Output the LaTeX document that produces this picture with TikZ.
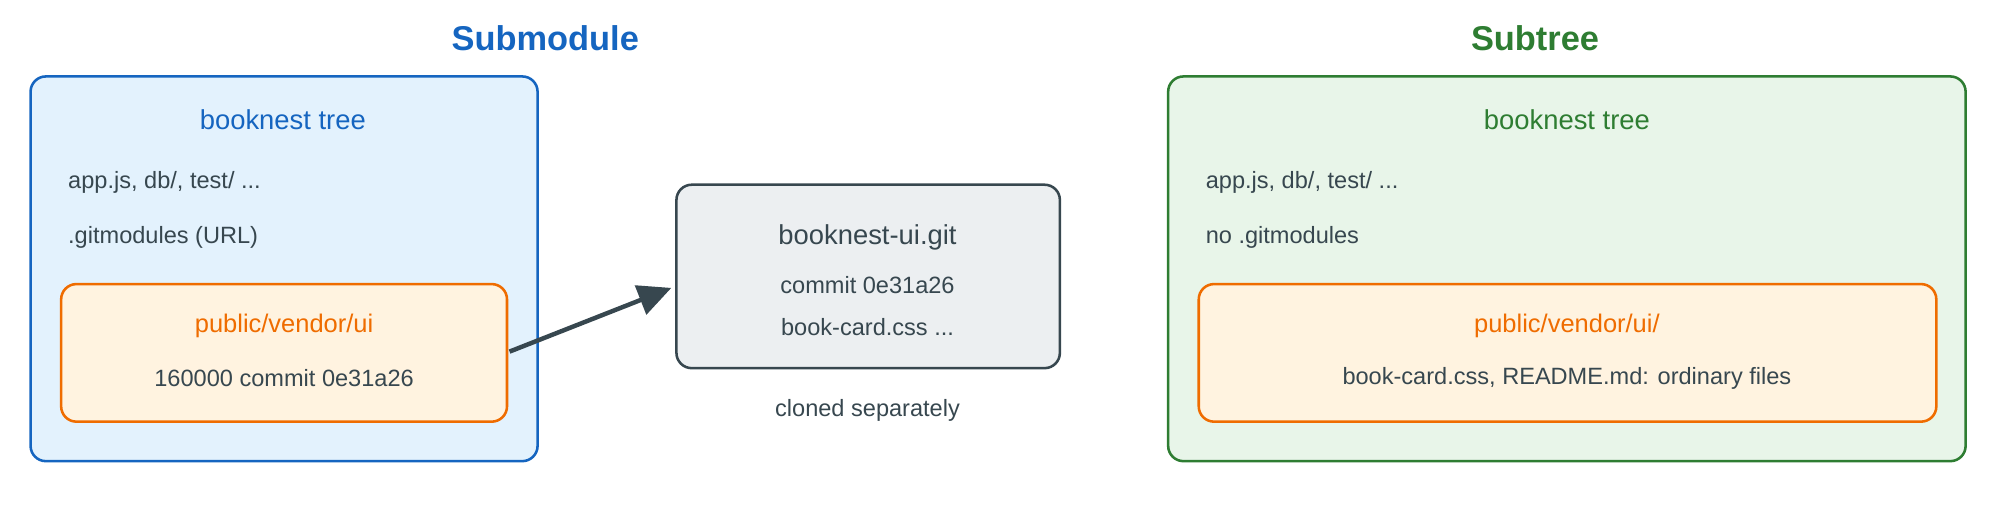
\documentclass[tikz,border=0pt]{standalone}
\usepackage{fontspec}
\setmainfont{Liberation Sans}
\usetikzlibrary{arrows.meta}
\definecolor{bluS}{HTML}{1565C0}\definecolor{bluF}{HTML}{E3F2FD}
\definecolor{grnS}{HTML}{2E7D32}\definecolor{grnF}{HTML}{E8F5E9}
\definecolor{orS}{HTML}{EF6C00}\definecolor{orF}{HTML}{FFF3E0}
\definecolor{gyS}{HTML}{37474F}\definecolor{gyF}{HTML}{ECEFF1}
\begin{document}
\begin{tikzpicture}[x=1pt,y=-1pt,
 box/.style={draw=#1S,fill=#1F,line width=2pt,rounded corners=12pt},
 body/.style={text=gyS,font=\fontsize{18.5}{22}\selectfont},
 head/.style={font=\fontsize{21.5}{26}\selectfont},
 ttl/.style={font=\fontsize{27}{32}\selectfont\bfseries}]
\useasboundingbox (0,0) rectangle (1570,399);
% left
\draw[box=blu] (24,60) rectangle (422,362);
\node[ttl,text=bluS] (t1) at (428,30) {Submodule};
\node[head,text=bluS] (h1) at (222,94) {booknest tree};
\node[body,anchor=west] (a1) at (50,143) {app.js, db/, test/ ...};
\node[body,anchor=west] (g1) at (50,186) {.gitmodules (URL)};
\draw[box=or] (48,223) rectangle (398,331);
\node[head,text=orS,font=\fontsize{20}{24}\selectfont] (p1) at (223,256) {public/vendor/ui};
\node[body] (c1) at (223,297) {160000 commit 0e31a26};
\coordinate (s) at (400,276);
% middle
\draw[box=gy] (531,145) rectangle (832,289);
\node[head,text=gyS] (r) at (681,186) {booknest-ui.git};
\node[body] (r2) at (681,224) {commit 0e31a26};
\node[body] (r3) at (681,257) {book-card.css ...};
\node[body] (cl) at (681,322) {cloned separately};
\coordinate (e) at (527,226);
\draw[gyS,line width=3.5pt,-{Triangle[length=26pt,width=24pt]}] (s) -- (e);
% right
\draw[box=grn] (917,60) rectangle (1543,362);
\node[ttl,text=grnS] (t2) at (1205,30) {Subtree};
\node[head,text=grnS] (h2) at (1230,94) {booknest tree};
\node[body,anchor=west] (a2) at (943,143) {app.js, db/, test/ ...};
\node[body,anchor=west] (g2) at (943,186) {no .gitmodules};
\draw[box=or] (941,223) rectangle (1520,331);
\node[head,text=orS,font=\fontsize{20}{24}\selectfont] (p2) at (1230,256) {public/vendor/ui/};
\node[body] (c2) at (1230,297) {book-card.css, README.md: ordinary files};
\end{tikzpicture}
\end{document}
